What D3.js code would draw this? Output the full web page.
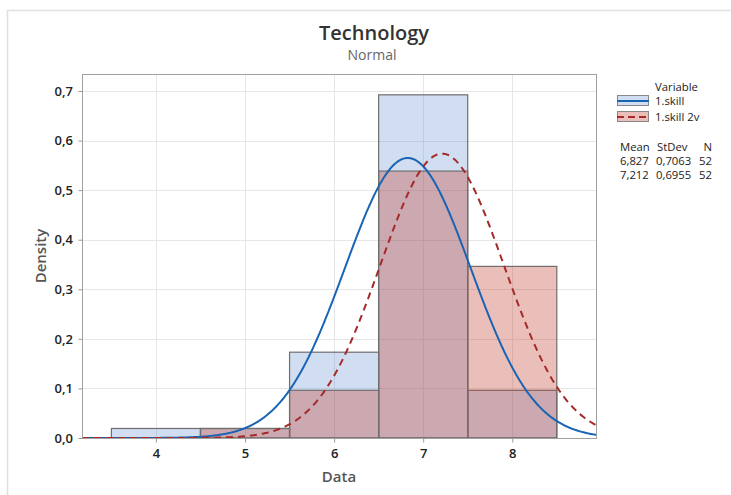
<!DOCTYPE html>
<html>
<head>
<meta charset="utf-8">
<script src="https://cdn.jsdelivr.net/npm/d3@7"></script>
<style>
  html, body { margin: 0; padding: 0; background: #fff; }
  svg { display: block; font-family: "Open Sans", "Noto Sans", sans-serif; }
</style>
</head>
<body>
<svg id="chart" width="731" height="495"></svg>
<script>
// Histogram bins (bin centres, width 1) and densities for each variable
const binCenters = [4, 5, 6, 7, 8];
const skillDensity = [0.0192, 0.0192, 0.1731, 0.6923, 0.0962];
const skill2vDensity = [0, 0.0192, 0.0962, 0.5385, 0.3462];

// Fitted normal parameters shown in the legend table
const seriesNames = ["1.skill", "1.skill 2v"];
const means = [6.827, 7.212];
const stdevs = [0.7063, 0.6955];
const counts = [52, 52];

const xTicks = [4, 5, 6, 7, 8];
const yTicks = [0, 0.1, 0.2, 0.3, 0.4, 0.5, 0.6, 0.7];

(function () {
const svg = d3.select("#chart");
const pL = 82, pR = 596, pT = 74, pB = 438;

const x = d3.scaleLinear().domain([3.17, 8.94]).range([pL, pR]);
const y = d3.scaleLinear().domain([0, 0.7343]).range([pB, pT]);
const comma = v => d3.format(".1f")(v).replace(".", ",");

// Page frame
svg.append("path")
  .attr("d", "M7.5,495 V10.5 H731")
  .attr("fill", "none").attr("stroke", "#e0e0e0").attr("stroke-width", 1.5);

// Titles
svg.append("text").attr("x", 374).attr("y", 40).attr("text-anchor", "middle")
  .attr("font-size", 20).attr("fill", "#333").attr("font-weight", 600).text("Technology");
svg.append("text").attr("x", 372).attr("y", 60).attr("text-anchor", "middle")
  .attr("font-size", 14).attr("fill", "#666").text("Normal");

// Gridlines
const grid = svg.append("g").attr("stroke", "#e6e6e6").attr("stroke-width", 1);
grid.selectAll("line.gx").data(xTicks).join("line")
  .attr("x1", d => Math.round(x(d)) + 0.5).attr("x2", d => Math.round(x(d)) + 0.5)
  .attr("y1", pT).attr("y2", pB);
grid.selectAll("line.gy").data(yTicks.slice(1)).join("line")
  .attr("y1", d => Math.round(y(d)) + 0.5).attr("y2", d => Math.round(y(d)) + 0.5)
  .attr("x1", pL).attr("x2", pR);

// Histogram bars
function bars(data, fill) {
  svg.append("g").selectAll("rect").data(binCenters.map((c, i) => ({c, v: data[i]})).filter(d => d.v > 0))
    .join("rect")
    .attr("x", d => x(d.c - 0.5)).attr("width", d => x(d.c + 0.5) - x(d.c - 0.5))
    .attr("y", d => y(d.v)).attr("height", d => y(0) - y(d.v))
    .attr("fill", fill).attr("stroke", "#6e6e6e").attr("stroke-width", 1.2);
}
bars(skillDensity, "rgba(70,120,200,0.25)");
bars(skill2vDensity, "rgba(195,69,54,0.35)");

// Normal density curves
svg.append("clipPath").attr("id", "plotClip").append("rect")
  .attr("x", pL).attr("y", pT).attr("width", pR - pL).attr("height", pB - pT);
const normal = (m, s) => t => Math.exp(-0.5 * ((t - m) / s) ** 2) / (s * Math.sqrt(2 * Math.PI));
const xs = d3.range(x.domain()[0], x.domain()[1] + 0.005, 0.01);
const line = d3.line().x(d => x(d[0])).y(d => y(d[1]));
const curveColors = ["#1a64b4", "#a52a2a"];
const curveDash = [null, "7,5"];
means.forEach((m, i) => {
  const f = normal(m, stdevs[i]);
  svg.append("path").attr("clip-path", "url(#plotClip)")
    .attr("d", line(xs.map(t => [t, f(t)])))
    .attr("fill", "none").attr("stroke", curveColors[i]).attr("stroke-width", 2)
    .attr("stroke-dasharray", curveDash[i]);
});

// Plot frame
svg.append("rect").attr("x", pL + 0.5).attr("y", pT + 0.5)
  .attr("width", pR - pL).attr("height", pB - pT)
  .attr("fill", "none").attr("stroke", "#a0a0a0").attr("stroke-width", 1);

// Axes
const xAxis = svg.append("g").attr("transform", `translate(0,${pB + 0.5})`)
  .call(d3.axisBottom(x).tickValues(xTicks).tickSize(4).tickFormat(d3.format("d")));
const yAxis = svg.append("g").attr("transform", `translate(${pL + 0.5},0)`)
  .call(d3.axisLeft(y).tickValues(yTicks).tickSize(4).tickFormat(comma));
[xAxis, yAxis].forEach(a => {
  a.select(".domain").remove();
  a.selectAll(".tick line").attr("stroke", "#999");
  a.selectAll(".tick text").attr("font-size", 13).attr("fill", "#222").attr("font-weight", 600)
    .attr("font-family", "\"Open Sans\", sans-serif");
});
xAxis.selectAll(".tick text").attr("dy", "0.95em");
yAxis.selectAll(".tick text").attr("dx", "-0.2em");

svg.append("text").attr("x", 339).attr("y", 482).attr("text-anchor", "middle")
  .attr("font-size", 15).attr("font-weight", 600).attr("fill", "#555").text("Data");
svg.append("text").attr("transform", "translate(46,256) rotate(-90)").attr("text-anchor", "middle")
  .attr("font-size", 15).attr("font-weight", 600).attr("fill", "#555").text("Density");

// Legend
const lg = svg.append("g").attr("font-size", 11.3).attr("fill", "#222");
lg.append("text").attr("x", 655).attr("y", 91).text("Variable");
const swFill = ["rgba(70,120,200,0.25)", "rgba(195,69,54,0.35)"];
seriesNames.forEach((n, i) => {
  const yy = 101 + i * 16;
  lg.append("rect").attr("x", 617.5).attr("y", yy - 5.5).attr("width", 31).attr("height", 10)
    .attr("fill", swFill[i]).attr("stroke", "#888").attr("stroke-width", 1);
  lg.append("line").attr("x1", 617).attr("x2", 649).attr("y1", yy).attr("y2", yy)
    .attr("stroke", curveColors[i]).attr("stroke-width", 2).attr("stroke-dasharray", i ? "7,4" : null);
  lg.append("text").attr("x", 655).attr("y", yy + 4).text(n);
});
lg.append("text").attr("x", 620).attr("y", 151).text("Mean");
lg.append("text").attr("x", 657).attr("y", 151).text("StDev");
lg.append("text").attr("x", 712).attr("y", 151).attr("text-anchor", "end").text("N");
means.forEach((m, i) => {
  const yy = 165 + i * 14;
  lg.append("text").attr("x", 620).attr("y", yy).text(d3.format(".3f")(m).replace(".", ","));
  lg.append("text").attr("x", 656).attr("y", yy).text(d3.format(".4f")(stdevs[i]).replace(".", ","));
  lg.append("text").attr("x", 712).attr("y", yy).attr("text-anchor", "end").text(counts[i]);
});
})();
</script>
</body>
</html>
